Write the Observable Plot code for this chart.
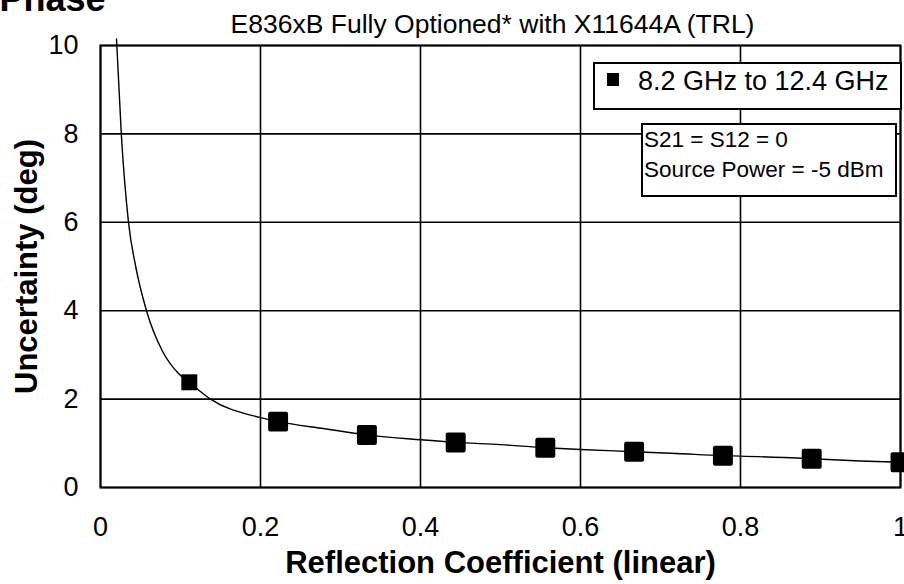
<!DOCTYPE html>
<html>
<head>
<meta charset="utf-8">
<script src="https://cdn.jsdelivr.net/npm/d3@7"></script>
<script src="https://cdn.jsdelivr.net/npm/@observablehq/plot@0.6"></script>
<style>
  html, body { margin: 0; padding: 0; background: #fff; overflow: hidden; }
  #wrap { position: relative; width: 904px; height: 584px; overflow: hidden; background: #fff; }
  .leg { position: absolute; background: #fff; border: 2px solid #000; box-sizing: border-box; color: #000;
         font-family: "Liberation Sans", Arial, sans-serif; white-space: nowrap; }
  #leg1 { left: 593px; top: 62px; width: 309px; height: 48px; font-size: 27px; line-height: 28px; padding: 3px 0 0 12px; }
  #leg1 .sw { display: inline-block; width: 12px; height: 13px; background: #000; margin-right: 19px; vertical-align: 4px; }
  #leg2 { left: 641px; top: 123px; width: 256px; height: 74px; font-size: 22.5px; line-height: 30px; padding: 0 0 0 1px; }
</style>
</head>
<body>
<div id="wrap"></div>
<script>
// ---- data ----
const titleText = "Phase";
const subtitleText = "E836xB Fully Optioned* with X11644A (TRL)";
const xTitle = "Reflection Coefficient (linear)";
const yTitle = "Uncertainty (deg)";
const legendLabel = "8.2 GHz to 12.4 GHz";
const noteLines = ["S21 = S12 = 0", "Source Power = -5 dBm"];

const xTicks = [0, 0.2, 0.4, 0.6, 0.8, 1];
const xTickLabels = ["0", "0.2", "0.4", "0.6", "0.8", "1"];
const yTicks = [0, 2, 4, 6, 8, 10];
const yTickLabels = ["0", "2", "4", "6", "8", "10"];

// marker points
const markerX = [0.111, 0.222, 0.333, 0.444, 0.556, 0.667, 0.778, 0.889, 1.0];
const markerY = [2.38, 1.49, 1.19, 1.02, 0.90, 0.81, 0.72, 0.65, 0.57];

// curve samples
const curveX = [0.020, 0.026, 0.035, 0.044, 0.0575, 0.077, 0.0975, 0.111, 0.1375, 0.2, 0.222, 0.28, 0.333, 0.4, 0.444, 0.5, 0.556, 0.6, 0.667, 0.72, 0.778, 0.8, 0.889, 0.95, 1.0];
const curveY = [10.15, 8.0, 6.0, 5.0, 4.0, 3.1, 2.58, 2.38, 2.0, 1.58, 1.49, 1.33, 1.19, 1.08, 1.02, 0.97, 0.90, 0.86, 0.81, 0.77, 0.72, 0.71, 0.65, 0.60, 0.57];

// ---- build ----
const markers = markerX.map((x, i) => ({x, y: markerY[i]}));
const curve = curveX.map((x, i) => ({x, y: curveY[i]}));

const FONT = '"Liberation Sans", Arial, sans-serif';

const chart = Plot.plot({
  width: 904,
  height: 584,
  marginLeft: 100,
  marginRight: 4,
  marginTop: 45,
  marginBottom: 97,
  style: {fontFamily: FONT, fontSize: "27px", color: "#000", background: "#fff", overflow: "visible"},
  x: {domain: [0, 1]},
  y: {domain: [0, 10]},
  marks: [
    Plot.gridX(xTicks, {stroke: "#000", strokeOpacity: 1, strokeWidth: 1.6}),
    Plot.gridY(yTicks, {stroke: "#000", strokeOpacity: 1, strokeWidth: 1.6}),
    Plot.frame({stroke: "#000", strokeWidth: 2}),
    Plot.axisX(xTicks, {tickSize: 0, tickPadding: 29, label: null, fontSize: 27,
      tickFormat: d => xTickLabels[xTicks.indexOf(d)]}),
    Plot.axisY(yTicks, {tickSize: 0, tickPadding: 22, label: null, fontSize: 27,
      tickFormat: d => yTickLabels[yTicks.indexOf(d)]}),
    Plot.line(curve, {x: "x", y: "y", stroke: "#000", strokeWidth: 1.4, curve: "monotone-x"}),
    Plot.dot(markers, {filter: (d, i) => i === 0, x: "x", y: "y", symbol: "square", r: 9, fill: "#000", stroke: "none"}),
    Plot.dot(markers, {filter: (d, i) => i > 0, x: "x", y: "y", symbol: "square", r: 9, fill: "#000",
      stroke: "#000", strokeWidth: 4, strokeLinejoin: "round"}),
    Plot.text([titleText], {frameAnchor: "top-left", textAnchor: "start", lineAnchor: "bottom",
      dx: -101, dy: -35, fontSize: 36, fontWeight: "bold"}),
    Plot.text([subtitleText], {frameAnchor: "top", lineAnchor: "bottom", dx: -8, dy: -13, fontSize: 26.5}),
    Plot.text([xTitle], {frameAnchor: "bottom", dy: 85, fontSize: 31, fontWeight: "bold"}),
    Plot.text([yTitle], {frameAnchor: "left", textAnchor: "middle", rotate: -90, dx: -73, fontSize: 31, fontWeight: "bold"})
  ]
});

const wrap = document.getElementById("wrap");
wrap.appendChild(chart);

const leg1 = document.createElement("div");
leg1.className = "leg"; leg1.id = "leg1";
const sw = document.createElement("span"); sw.className = "sw";
leg1.appendChild(sw);
leg1.appendChild(document.createTextNode(legendLabel));
wrap.appendChild(leg1);

const leg2 = document.createElement("div");
leg2.className = "leg"; leg2.id = "leg2";
noteLines.forEach(t => { const d = document.createElement("div"); d.textContent = t; leg2.appendChild(d); });
wrap.appendChild(leg2);
</script>
</body>
</html>
